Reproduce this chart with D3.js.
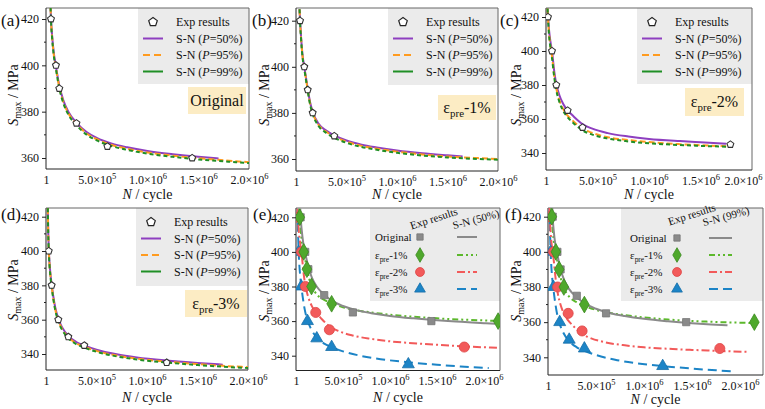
<!DOCTYPE html>
<html>
<head>
<meta charset="utf-8" />
<script src="https://d3js.org/d3.v7.min.js"></script>
<style>
  body { margin: 0; background: #fff; }
</style>
</head>
<body>
<svg id="fig" width="765" height="409"></svg>
<script>
// ---- experimental points (N in cycles, S in MPa) ----
const expOrigN = [49e3, 98e3, 131e3, 300e3, 605e3, 1.44e6];
const expOrigS = [420, 400, 390, 375, 365, 360];
const exp1N = [40e3, 82e3, 116e3, 165e3, 379e3, 2.15e6];
const exp1S = [420, 400, 390, 380, 370, 360];
const exp2N = [19e3, 58e3, 100e3, 210e3, 355e3, 1.79e6];
const exp2S = [420, 400, 380, 365, 355, 345];
const exp3N = [27e3, 56e3, 122e3, 221e3, 379e3, 1.195e6];
const exp3S = [400, 380, 360, 350, 345, 335];

// ---- fitted S-N curves ----
const fitOrigN = [45e3, 50e3, 60e3, 75e3, 100e3, 130e3, 170e3, 220e3, 300e3, 400e3, 500e3, 650e3, 800e3, 1e6, 1.25e6, 1.5e6, 1.7e6, 1.87e6, 2e6, 2.12e6];
const fitOrigS50 = [425, 419.5, 413, 406, 399, 391.5, 385, 380, 375.3, 371.2, 368.7, 366.2, 364.6, 363, 361.6, 360.5, 359.8, 359.2, 358.8, 358.4];
const fitOrigS95 = [425, 419, 412.3, 405.3, 398.3, 390.8, 384.3, 379.3, 374.7, 370.6, 368.1, 365.6, 364, 362.4, 361, 359.9, 359.2, 358.6, 358.2, 357.9];
const fitOrigS99 = [425, 418.5, 411.8, 404.8, 397.8, 390.3, 383.8, 378.8, 374.2, 370.1, 367.6, 365.1, 363.5, 361.9, 360.5, 359.4, 358.7, 358.2, 357.8, 357.5];

const fit1N = [35e3, 40e3, 50e3, 65e3, 82e3, 100e3, 116e3, 140e3, 165e3, 220e3, 300e3, 380e3, 500e3, 650e3, 800e3, 1e6, 1.25e6, 1.5e6, 1.65e6, 1.8e6, 2e6, 2.15e6];
const fit1S50 = [425, 420.5, 413, 405, 400, 395, 390.5, 384.5, 380.5, 375.5, 372.3, 370.2, 368, 366.2, 365, 363.7, 362.5, 361.6, 361.1, 360.8, 360.4, 360.1];
const fit1S95 = [425, 420, 412.5, 404.5, 399.5, 394.5, 390, 384, 380, 375, 371.8, 369.7, 367.5, 365.7, 364.5, 363.2, 362, 361.1, 360.7, 360.4, 360, 359.7];
const fit1S99 = [425, 419.5, 412, 404, 399, 394, 389.5, 383.5, 379.5, 374.5, 371.3, 369.2, 367, 365.2, 364, 362.7, 361.5, 360.7, 360.3, 360, 359.7, 359.4];

const fit2N = [15e3, 20e3, 30e3, 42e3, 58e3, 80e3, 100e3, 130e3, 170e3, 210e3, 260e3, 355e3, 450e3, 600e3, 800e3, 1e6, 1.3e6, 1.5e6, 1.75e6, 2.07e6, 2.2e6];
const fit2S50 = [425, 420, 412, 406, 400, 388, 380.5, 374, 368.5, 365, 362, 357, 354.3, 351.7, 349.7, 348.3, 347, 346.3, 345.5, 344.7, 344.4];
const fit2S95 = [425, 419, 410, 403.5, 397, 385.5, 378, 371, 365.5, 362, 359, 354.3, 351.8, 349.3, 347.6, 346.4, 345.2, 344.6, 344, 343.4, 343.2];
const fit2S99 = [425, 418.5, 409, 402.5, 396, 384.5, 377, 370, 364.5, 361, 358, 353.3, 350.8, 348.5, 346.8, 345.7, 344.7, 344.2, 343.7, 343.1, 342.9];

const fit3N = [18e3, 22e3, 27e3, 35e3, 45e3, 56e3, 70e3, 90e3, 122e3, 160e3, 221e3, 300e3, 379e3, 500e3, 700e3, 900e3, 1.195e6, 1.5e6, 1.75e6, 1.94e6, 2.05e6];
const fit3S50 = [425, 412, 402, 393, 386, 380.5, 374.5, 367.5, 360.5, 355.5, 350.5, 347, 345, 342.5, 339.8, 338, 336.2, 334.8, 333.8, 333.2, 332.9];
const fit3S95 = [425, 411, 401, 392, 385, 379.5, 373.5, 366.5, 359.5, 354.5, 349.7, 346.2, 344.2, 341.8, 339.1, 337.3, 335.5, 334.1, 333.1, 332.5, 332.2];
const fit3S99 = [425, 410.5, 400.5, 391.5, 384.5, 379, 373, 366, 359, 354, 349.2, 345.7, 343.7, 341.3, 338.6, 336.8, 335, 333.6, 332.6, 332, 331.7];

const xTickVals = [1, 5e5, 1e6, 1.5e6, 2e6];
const condLabels = ["Original", "1%", "2%", "3%"];

const svg = d3.select("#fig");
const defs = svg.append("defs");

const purple = "#8e3fc0", orange = "#ff9b1f", dgreen = "#1f8f25";
const gray = "#8a8a8a", lgreen = "#5cb82c", red = "#f25a5a", blue = "#1c84c6";

function pairs(N, S, nmax) {
  return N.map((n, i) => [n, S[i]]).filter(d => d[0] <= nmax);
}

function pentagon(r) {
  const pts = [];
  for (let i = 0; i < 5; i++) {
    const a = -Math.PI / 2 + i * 2 * Math.PI / 5;
    pts.push([r * Math.cos(a), r * Math.sin(a)]);
  }
  return "M" + pts.join("L") + "Z";
}

function epsText(sel, suffix, size) {
  sel.append("tspan").text("ε");
  sel.append("tspan").attr("font-size", size * 0.68).attr("dy", size * 0.25).text("pre");
  sel.append("tspan").attr("dy", -size * 0.25).text("-" + suffix);
}

function makePanel(p) {
  const x = d3.scaleLinear().domain([0, p.xmax]).range([p.x0, p.x1]);
  const y = d3.scaleLinear().domain(p.yd).range(p.yr);
  const g = svg.append("g");

  defs.append("clipPath").attr("id", "clip-" + p.id)
    .append("rect").attr("x", p.x0).attr("y", p.y0)
    .attr("width", p.x1 - p.x0).attr("height", p.y1 - p.y0);

  // frame
  g.append("line").attr("x1", p.x0).attr("x2", p.x1).attr("y1", p.y0).attr("y2", p.y0)
    .attr("stroke", "#666").attr("stroke-width", 1);
  g.append("line").attr("x1", p.x1).attr("x2", p.x1).attr("y1", p.y0).attr("y2", p.y1)
    .attr("stroke", "#666").attr("stroke-width", 1);

  // y axis
  const ya = g.append("g").attr("transform", `translate(${p.x0},0)`)
    .call(d3.axisLeft(y).tickValues(p.yticks).tickSize(4).tickPadding(3));
  ya.select(".domain").remove();
  ya.selectAll("text").attr("font-size", 12);
  ya.selectAll("line").attr("stroke", "#222");
  g.selectAll(null).data(p.yminor).enter().append("line")
    .attr("x1", p.x0 - 2).attr("x2", p.x0).attr("y1", d => y(d)).attr("y2", d => y(d))
    .attr("stroke", "#222");

  // x axis
  const xa = g.append("g").attr("transform", `translate(0,${p.y1})`)
    .call(d3.axisBottom(x).tickValues(xTickVals).tickSize(0).tickPadding(6));
  xa.select(".domain").remove();
  xa.selectAll("text").attr("font-size", 12)
    .each(function (d) {
      const t = d3.select(this);
      t.text(null);
      if (d === 1) { t.text("1"); return; }
      const e = Math.floor(Math.log10(d));
      const m = (d / Math.pow(10, e)).toFixed(1);
      t.append("tspan").text(m + "×10");
      t.append("tspan").attr("font-size", 8.5).attr("dy", -5).text(e);
      if (d === 2e6 && p.lastShift) t.attr("x", p.lastShift);
    });

  g.append("line").attr("x1", p.x0).attr("x2", p.x0).attr("y1", p.y0).attr("y2", p.y1)
    .attr("stroke", "#222");
  g.append("line").attr("x1", p.x0).attr("x2", p.x1).attr("y1", p.y1).attr("y2", p.y1)
    .attr("stroke", "#222");

  // axis titles
  const xt = g.append("text").attr("x", (p.x0 + p.x1) / 2).attr("y", p.xtY)
    .attr("text-anchor", "middle").attr("font-size", 14);
  xt.append("tspan").attr("font-style", "italic").text("N");
  xt.append("tspan").text(" / cycle");

  const yt = g.append("text").attr("transform", `translate(${p.ytX},${p.ytY}) rotate(-90)`)
    .attr("text-anchor", "middle").attr("font-size", 14);
  yt.append("tspan").attr("font-style", "italic").text("S");
  yt.append("tspan").attr("font-size", 10).attr("dy", 3).text("max");
  yt.append("tspan").attr("dy", -3).text(" / MPa");

  g.append("text").attr("x", p.lblX).attr("y", p.lblY).attr("font-size", 17).text("(" + p.id + ")");

  const plot = g.append("g").attr("clip-path", `url(#clip-${p.id})`);
  return { x, y, g, plot };
}

const line = (x, y) => d3.line().x(d => x(d[0])).y(d => y(d[1])).curve(d3.curveMonotoneX);

// ---------- panels (a)-(d) ----------
const top4 = [
  { id: "a", x0: 46, x1: 249, y0: 8, y1: 169, xmax: 2e6, yd: [360, 420], yr: [158, 19],
    yticks: [360, 380, 400, 420], yminor: [370, 390, 410], xtY: 199, ytX: 18, ytY: 95, lblX: 1, lblY: 26,
    N: fitOrigN, S: [fitOrigS50, fitOrigS95, fitOrigS99], nmax: [1.7e6, 2e6, 2e6], eN: expOrigN, eS: expOrigS,
    leg: [138, 8, 111, 76], box: [188, 87, 58, 27], tag: null },
  { id: "b", x0: 296, x1: 498, y0: 8, y1: 171, xmax: 2e6, yd: [360, 420], yr: [159, 20.7],
    yticks: [360, 380, 400, 420], yminor: [370, 390, 410], xtY: 199, ytX: 269, ytY: 95, lblX: 252, lblY: 26,
    N: fit1N, S: [fit1S50, fit1S95, fit1S99], nmax: [1.65e6, 2e6, 2e6], eN: exp1N, eS: exp1S,
    leg: [388, 8, 110, 77], box: [438, 95, 58, 25], tag: "1%" },
  { id: "c", x0: 546, x1: 752, y0: 8, y1: 170, xmax: 2e6, yd: [340, 420], yr: [153, 17],
    yticks: [340, 360, 380, 400, 420], yminor: [350, 370, 390, 410], xtY: 199, ytX: 521, ytY: 95, lblX: 500, lblY: 26,
    N: fit2N, S: [fit2S50, fit2S95, fit2S99], nmax: [1.75e6, 1.75e6, 1.75e6], eN: exp2N, eS: exp2S,
    leg: [637, 8, 115, 76], box: [685, 88, 59, 28], tag: "2%", lastShift: -9 },
  { id: "d", x0: 46, x1: 248, y0: 208, y1: 370, xmax: 2e6, yd: [340, 420], yr: [354, 216.7],
    yticks: [340, 360, 380, 400, 420], yminor: [350, 370, 390, 410], xtY: 402, ytX: 18, ytY: 290, lblX: 1, lblY: 220,
    N: fit3N, S: [fit3S50, fit3S95, fit3S99], nmax: [1.75e6, 2.05e6, 2.05e6], eN: exp3N, eS: exp3S,
    leg: [136, 208, 112, 78], box: [185, 290, 62, 27], tag: "3%" }
];

top4.forEach(p => {
  const { x, y, g, plot } = makePanel(p);
  const L = line(x, y);

  // legend box first (behind the curves, as in the figure)
  const lg = g.insert("g", ":first-child");
  lg.append("rect").attr("x", p.leg[0]).attr("y", p.leg[1]).attr("width", p.leg[2]).attr("height", p.leg[3])
    .attr("fill", "#ebebeb");

  plot.append("path").datum(pairs(p.N, p.S[0], p.nmax[0])).attr("d", L)
    .attr("fill", "none").attr("stroke", purple).attr("stroke-width", 2);
  plot.append("path").datum(pairs(p.N, p.S[1], p.nmax[1])).attr("d", L)
    .attr("fill", "none").attr("stroke", orange).attr("stroke-width", 2).attr("stroke-dasharray", "6,3");
  plot.append("path").datum(pairs(p.N, p.S[2], p.nmax[2])).attr("d", L)
    .attr("fill", "none").attr("stroke", dgreen).attr("stroke-width", 2).attr("stroke-dasharray", "4,3");

  plot.selectAll(null).data(p.eN.map((n, i) => [n, p.eS[i]])).enter().append("path")
    .attr("d", pentagon(3.6)).attr("transform", d => `translate(${x(d[0])},${y(d[1])})`)
    .attr("fill", "#fff").attr("stroke", "#333").attr("stroke-width", 1.1);

  // legend rows
  const lx = p.leg[0], ly = p.leg[1];
  const rows = [ly + 14, ly + 30.5, ly + 47, ly + 63.5];
  g.append("path").attr("d", pentagon(4.5)).attr("transform", `translate(${lx + 15},${rows[0]})`)
    .attr("fill", "#fff").attr("stroke", "#222").attr("stroke-width", 1.2);
  g.append("text").attr("x", lx + 38).attr("y", rows[0] + 4).attr("font-size", 12).text("Exp results");
  const styles = [[purple, null, "50%"], [orange, "7,4", "95%"], [dgreen, null, "99%"]];
  styles.forEach((s, i) => {
    const yy = rows[i + 1];
    g.append("line").attr("x1", lx + 5).attr("x2", lx + 25).attr("y1", yy).attr("y2", yy)
      .attr("stroke", s[0]).attr("stroke-width", 2).attr("stroke-dasharray", s[1]);
    const t = g.append("text").attr("x", lx + 38).attr("y", yy + 4).attr("font-size", 12);
    t.append("tspan").text("S-N (");
    t.append("tspan").attr("font-style", "italic").text("P");
    t.append("tspan").text("=" + s[2] + ")");
  });

  // condition tag
  g.append("rect").attr("x", p.box[0]).attr("y", p.box[1]).attr("width", p.box[2]).attr("height", p.box[3])
    .attr("fill", "#fcecc4");
  const tt = g.append("text").attr("x", p.box[0] + p.box[2] / 2).attr("y", p.box[1] + p.box[3] / 2 + 5)
    .attr("text-anchor", "middle").attr("font-size", 16);
  if (p.tag === null) tt.text("Original");
  else epsText(tt, p.tag, 16);
});

// ---------- panels (e), (f) ----------
const bottom2 = [
  { id: "e", x0: 296, x1: 500, y0: 208, y1: 370.5, xmax: 2.17e6, yd: [340, 420], yr: [355.7, 217.3],
    yticks: [340, 360, 380, 400, 420], yminor: [350, 370, 390, 410], xtY: 402, ytX: 269, ytY: 291, lblX: 253, lblY: 220,
    S: [fitOrigS50, fit1S50, fit2S50, fit3S50], nmax: [2.12e6, 2.15e6, 2.2e6, 2.05e6], head: "S-N (50%)",
    leg: [370, 208, 130, 93], tx: 375, mx: 420, lx: [457, 477], rows: [237, 255, 272, 289], hx: [435, 477], hy: [222, 223] },
  { id: "f", x0: 548, x1: 763, y0: 208, y1: 375, xmax: 2.24e6, yd: [340, 420], yr: [357.3, 216.7],
    yticks: [340, 360, 380, 400, 420], yminor: [350, 370, 390, 410], xtY: 404, ytX: 521, ytY: 291, lblX: 505, lblY: 220,
    S: [fitOrigS99, fit1S99, fit2S99, fit3S99], nmax: [1.87e6, 2.15e6, 2.07e6, 1.94e6], head: "S-N (99%)",
    leg: [621, 208, 142, 93], tx: 630, mx: 677, lx: [709, 732], rows: [238, 255, 272, 289], hx: [693, 727], hy: [218, 220] }
];

const Ns = [fitOrigN, fit1N, fit2N, fit3N];
const eNs = [expOrigN, exp1N, exp2N, exp3N];
const eSs = [expOrigS, exp1S, exp2S, exp3S];
const lineCol = [gray, lgreen, red, blue];
const dashes = [null, "6,3,2,3,2,3", "8,3,2,3", "9,5"];
const marks = [
  { type: d3.symbolSquare, size: 52, legSize: 40, fill: gray, stroke: "#777" },
  { type: d3.symbolDiamond, size: 80, legSize: 62, fill: "#4fa82c", stroke: "#3b8a20" },
  { type: d3.symbolCircle, size: 80, legSize: 62, fill: red, stroke: "#dd4444" },
  { type: d3.symbolTriangle, size: 62, legSize: 50, fill: blue, stroke: "#176ea8" }
];

bottom2.forEach(p => {
  const { x, y, g, plot } = makePanel(p);
  const L = line(x, y);

  const lg = g.insert("g", ":first-child");
  lg.append("rect").attr("x", p.leg[0]).attr("y", p.leg[1]).attr("width", p.leg[2]).attr("height", p.leg[3])
    .attr("fill", "#ebebeb");

  [3, 2, 1, 0].forEach(k => {
    plot.append("path").datum(pairs(Ns[k], p.S[k], p.nmax[k])).attr("d", L)
      .attr("fill", "none").attr("stroke", lineCol[k]).attr("stroke-width", 2)
      .attr("stroke-dasharray", dashes[k]);
  });
  [3, 2, 0, 1].forEach(k => {
    plot.selectAll(null).data(eNs[k].map((n, i) => [n, eSs[k][i]])).enter().append("path")
      .attr("d", d3.symbol().type(marks[k].type).size(marks[k].size)())
      .attr("transform", d => `translate(${x(d[0])},${y(d[1])})`)
      .attr("fill", marks[k].fill).attr("stroke", marks[k].stroke).attr("stroke-width", 0.8);
  });

  // legend
  g.append("text").attr("transform", `translate(${p.hx[0]},${p.hy[0]}) rotate(-18)`)
    .attr("text-anchor", "middle").attr("font-size", 11).text("Exp results");
  g.append("text").attr("transform", `translate(${p.hx[1]},${p.hy[1]}) rotate(-15)`)
    .attr("text-anchor", "middle").attr("font-size", 11).text(p.head);
  condLabels.forEach((c, k) => {
    const yy = p.rows[k];
    const t = g.append("text").attr("x", p.tx).attr("y", yy + 4).attr("font-size", 11);
    if (k === 0) t.text(c); else epsText(t, c, 11);
    g.append("path").attr("d", d3.symbol().type(marks[k].type).size(marks[k].legSize)())
      .attr("transform", `translate(${p.mx},${yy})`)
      .attr("fill", marks[k].fill).attr("stroke", marks[k].stroke).attr("stroke-width", 0.8);
    g.append("line").attr("x1", p.lx[0]).attr("x2", p.lx[1]).attr("y1", yy).attr("y2", yy)
      .attr("stroke", lineCol[k]).attr("stroke-width", 2).attr("stroke-dasharray", dashes[k]);
  });
});

// serif font on every text, set directly on the elements
svg.selectAll("g").attr("font-family", null);
svg.selectAll("text").attr("font-family", "Liberation Serif").attr("fill", "#111");
</script>
</body>
</html>
